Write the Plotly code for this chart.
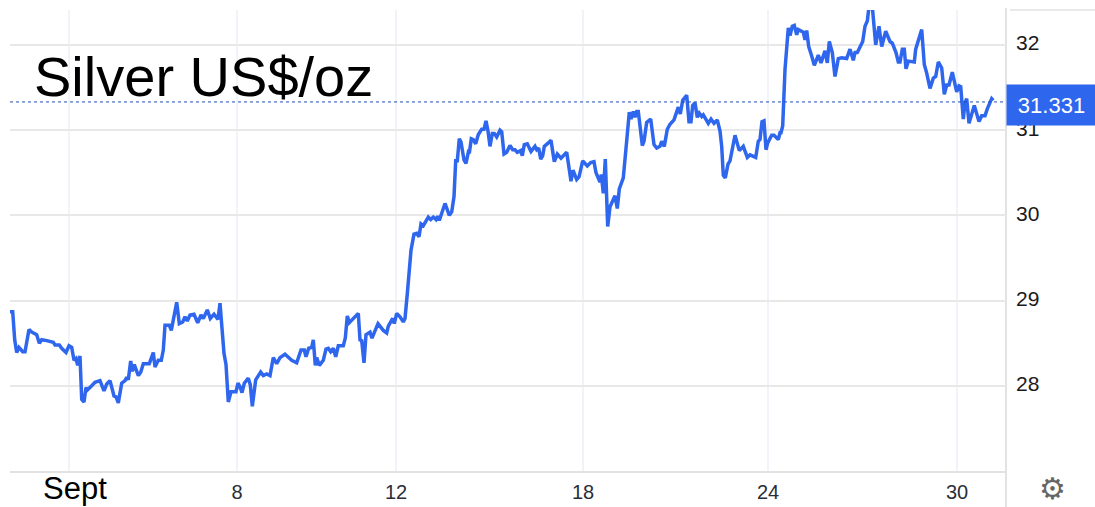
import plotly.graph_objects as go

session_pos = [10,12.7,14.7,16.7,19,22.7,25,29,31.7,36.7,39.3,41.7,46.7,53.3,55,59.3,61.7,66,69,71.7,74,76,77.7,80,81.7,84,86,87.3,91.7,95,100,104,106.7,110,114,116,117,118.3,121.7,125,126.7,128.3,130.7,132.3,134.3,138.3,140.7,143.3,149.3,153.3,155,158.3,161.3,163.3,165,169.3,171.3,176.7,179.3,182.7,185,187.3,190,194,197.7,201,203.3,207.3,210.3,214,218,220,224,226,228.3,231,236,238,240,242,244.3,248.3,250.3,252.3,255.7,258.3,260.7,263.3,266.7,270,273.3,276.7,280,285,291.7,296.7,301,304.3,306,308.7,311.7,313.3,315.3,316.7,319.3,323.3,326,328.3,330.7,333.3,335.7,338.3,343.3,345.3,347.3,349.3,358.3,360,361.7,364,366,370,372,378,383.3,386.7,388.3,392.7,394.3,396.7,400,403.3,405,407.3,
411,414,416.7,419,421,423.3,428.3,430.7,433.3,436,437.7,439.3,441.7,445,449.3,451.7,454,455.7,457.3,459.3,461,464,466,468.3,469.3,471.3,473.3,475.7,478.3,481.7,484,486,488,490,492.3,494.3,496.7,500,501.7,504,506.7,510,512.7,515,517.3,520.7,522.3,524.3,527.3,531,535,536.7,538.7,540.7,542.7,544.3,548.3,551,554.3,557.3,561,566.7,571,573,576.7,579,582.7,587.3,590.7,594,596,600,601.3,603.3,605.3,607.7,610,615,617.3,619.3,623.3,629.3,631,633.3,635,636.7,638.3,642.3,644,646.7,650.7,654,656.7,660,661.7,664.3,667.3,670,674,678.3,680.3,682.7,686.7,689,691,692.7,695,697.3,699.3,701.7,703.3,708.3,711,714,717.3,720,721.7,723.3,725.3,728,730,735,739.3,743.3,747.3,750,755.7,758.3,760,762,764,766,767.7,771.7,774,778.3,780,
781,782.7,785,788.3,790,792.3,794.3,796.7,798.3,803.3,805,806.7,808.7,811.7,814.3,818.3,821,825,827.3,829.3,832.3,835,838.3,841.7,846.7,850,853.3,855,857.3,862.7,865,867.3,869,872.3,875.7,879,881.7,885.7,890,892.3,896,898.3,900,902.3,904.3,906,908.3,914.3,915.7,921.7,924.3,926.7,930,933.3,935.7,938.3,941.7,944.3,946.7,949,952.3,956.7,959,960.7,963.3,965,966.7,969,971.7,974.3,979,981.7,985,987.3,991.7,993.3]

price = [28.87,28.87,28.54,28.39,28.45,28.40,28.40,28.66,28.63,28.60,28.50,28.54,28.53,28.51,28.48,28.48,28.44,28.39,28.47,28.45,28.30,28.32,28.24,28.35,27.84,27.81,27.98,27.95,28.00,28.04,28.06,27.94,28.02,28.06,27.88,27.87,27.84,27.80,28.03,28.06,28.10,28.07,28.29,28.17,28.25,28.12,28.16,28.26,28.26,28.39,28.22,28.30,28.30,28.42,28.71,28.71,28.65,28.98,28.73,28.75,28.81,28.76,28.83,28.84,28.74,28.83,28.79,28.89,28.79,28.84,28.78,28.97,28.38,28.25,27.81,27.93,27.93,28.03,27.99,27.92,28.03,28.09,28.01,27.76,28.07,28.11,28.16,28.12,28.14,28.12,28.33,28.26,28.33,28.37,28.30,28.27,28.42,28.42,28.34,28.44,28.45,28.54,28.24,28.33,28.24,28.30,28.43,28.44,28.40,28.44,28.34,28.47,28.47,28.56,28.82,28.74,28.85,28.54,28.53,28.27,28.60,28.63,28.56,28.73,28.65,28.62,28.70,28.79,28.73,28.85,28.81,28.75,28.79,29.08,
29.59,29.78,29.79,29.75,29.90,29.88,29.98,29.95,29.98,29.95,29.99,29.94,30.04,30.14,30.00,30.04,30.22,30.64,30.64,30.90,30.86,30.65,30.61,30.74,30.73,30.90,30.89,30.84,30.95,31.01,31.01,31.11,30.99,30.81,30.96,30.96,30.92,31.00,30.98,30.72,30.74,30.82,30.77,30.77,30.74,30.76,30.70,30.83,30.84,30.75,30.81,30.77,30.79,30.66,30.70,30.81,30.85,30.88,30.63,30.72,30.67,30.74,30.40,30.53,30.42,30.45,30.64,30.58,30.62,30.63,30.50,30.39,30.48,30.26,30.66,29.87,30.10,30.23,30.08,30.31,30.44,31.21,31.13,31.22,31.15,31.22,31.22,30.82,30.87,31.09,31.13,30.83,30.79,30.81,30.87,30.81,31.01,31.07,31.12,31.27,31.19,31.35,31.41,31.10,31.10,31.29,31.32,31.15,31.20,31.16,31.18,31.08,31.13,31.08,31.12,30.99,30.81,30.47,30.44,30.60,30.64,30.94,30.76,30.81,30.68,30.71,30.68,30.87,30.89,31.10,31.11,30.77,30.85,30.94,30.94,30.89,30.97,
30.97,31.05,31.71,32.20,32.11,32.22,32.23,32.12,32.18,32.15,32.06,32.17,31.98,31.87,31.76,31.88,31.79,31.93,31.79,32.04,31.91,31.63,31.84,31.85,31.84,31.95,31.82,31.91,31.91,32.04,32.22,32.28,32.45,32.45,32.00,32.22,31.98,32.16,32.04,32.02,31.91,31.80,31.80,31.95,31.95,31.72,31.81,31.80,31.95,32.18,31.77,31.67,31.49,31.61,31.63,31.80,31.73,31.42,31.53,31.53,31.68,31.45,31.52,31.51,31.13,31.32,31.37,31.08,31.19,31.29,31.10,31.17,31.17,31.25,31.37,31.35]

last_price = 31.331
date_ticks = [237, 396, 583, 768, 957]
date_labels = ["8", "12", "18", "24", "30"]
month_tick = 69
month_label = "Sept"
price_ticks = [28, 29, 30, 31, 32]
chart_title = "Silver US$/oz"

W, H = 1095, 507
L, R, T, B = 10, 89, 10, 36
pw, ph = W - L - R, H - T - B
FONT = "Liberation Sans"
BLUE = "#2f66ee"
def px(x): return (x - L) / pw
def py(y): return 1 - (y - T) / ph

fig = go.Figure(go.Scatter(x=session_pos, y=price, mode="lines",
                           line=dict(color=BLUE, width=3.5, shape="linear"),
                           hoverinfo="skip", showlegend=False))

fig.update_layout(
    width=W, height=H, margin=dict(l=L, r=R, t=T, b=B, pad=0, autoexpand=False),
    paper_bgcolor="white", plot_bgcolor="white", showlegend=False,
    font=dict(family=FONT, color="#222222"),
    xaxis=dict(range=[10, 1006], tickmode="array",
               tickvals=[month_tick] + date_ticks, ticktext=[""] + date_labels,
               showgrid=True, gridcolor="#f1f3f9", gridwidth=2, zeroline=False,
               showline=True, linecolor="#e2e2e2", linewidth=2, ticks="",
               tickfont=dict(size=20, color="#2a2e39", family=FONT), ticklabelstandoff=2),
    yaxis=dict(range=[27.0, 32.41], side="right", tickmode="array",
               tickvals=price_ticks, ticktext=[str(v) for v in price_ticks],
               showgrid=True, gridcolor="#e8e8e8", gridwidth=2, zeroline=False,
               showline=False, ticks="",
               tickfont=dict(size=21, color="#1a1a1a", family=FONT), ticklabelstandoff=9,
               ticklabelshift=-2),
    shapes=[
        dict(type="line", xref="x", yref="y", x0=10, x1=1006, y0=last_price, y1=last_price,
             line=dict(color="#1f4fb4", width=1, dash="dot"), layer="above"),
        dict(type="line", xref="paper", yref="paper", x0=px(1006), x1=px(1006), y0=py(8), y1=py(507),
             line=dict(color="#e2e2e2", width=2), layer="below"),
        dict(type="line", xref="paper", yref="paper", x0=px(1010), x1=px(1095), y0=py(10), y1=py(10),
             line=dict(color="#e2e2e2", width=1.5), layer="below"),
    ],
    annotations=[
        dict(text=chart_title, xref="paper", yref="paper", x=px(32), y=py(77), xanchor="left",
             yanchor="middle", showarrow=False, font=dict(size=56, color="#000000", family=FONT)),
        dict(text=month_label, xref="paper", yref="paper", x=px(75), y=py(488), xanchor="center",
             yanchor="middle", showarrow=False, font=dict(size=31, color="#000000", family=FONT)),
        dict(text=f"{last_price:.3f}", xref="paper", yref="paper", x=px(1006), y=py(105),
             xanchor="left", yanchor="middle", showarrow=False, width=89, height=40, align="center",
             valign="middle", bgcolor=BLUE, borderpad=0,
             font=dict(size=22, color="white", family=FONT)),
        dict(text="\u2699", xref="paper", yref="paper", x=px(1052), y=py(488), xanchor="center",
             yanchor="middle", showarrow=False, font=dict(size=30, color="#666666", family="DejaVu Sans")),
    ],
)

fig.write_html("out.html", config=dict(displayModeBar=False),
               post_script="document.body.style.margin='0';document.body.style.overflow='hidden';")
